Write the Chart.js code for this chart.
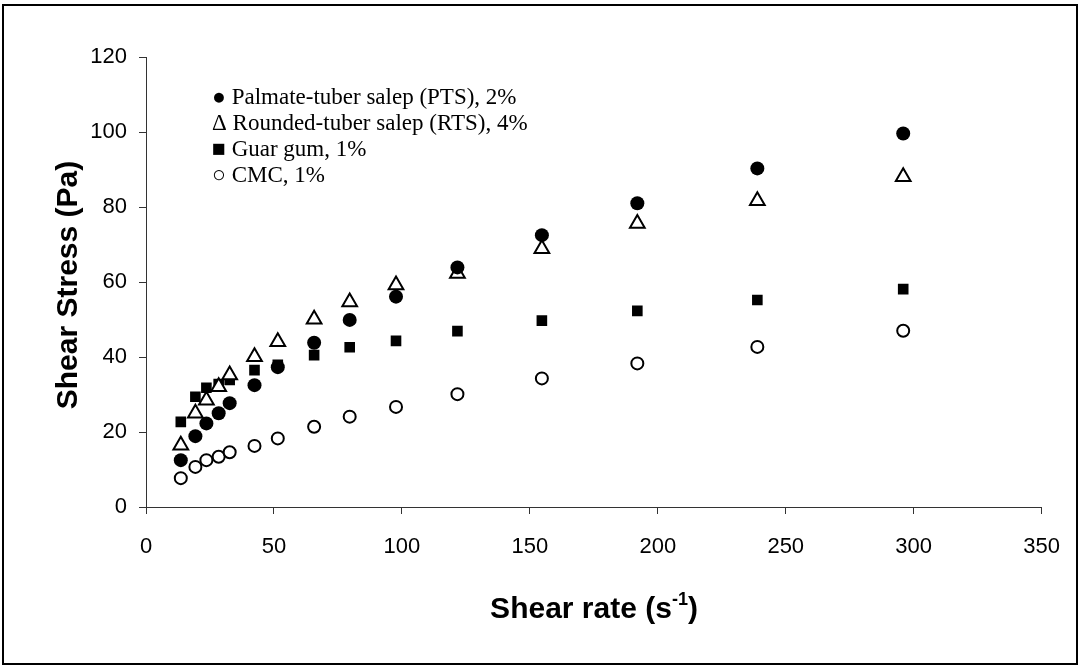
<!DOCTYPE html>
<html>
<head>
<meta charset="utf-8">
<script src="https://cdn.jsdelivr.net/npm/chart.js@4"></script>
<style>
  html, body { margin: 0; padding: 0; background: #fff; }
  #wrap { width: 1080px; height: 668px; }
</style>
</head>
<body>
<div id="wrap"><canvas id="chart" width="1080" height="668"></canvas></div>
<script>
// values
const shearRate = [13.6, 19.3, 23.6, 28.4, 32.7, 42.4, 51.5, 65.7, 79.6, 97.7, 121.7, 154.7, 192.0, 238.9, 295.9];
const ptsStress = [12.5, 18.9, 22.3, 25.0, 27.7, 32.5, 37.3, 43.8, 49.9, 56.1, 63.9, 72.5, 81.0, 90.3, 99.6];
const rtsStress = [16.5, 25.0, 28.5, 32.1, 35.2, 40.1, 44.1, 50.1, 54.7, 59.2, 62.3, 68.9, 75.6, 81.7, 88.1];
const guarStress = [22.7, 29.4, 31.8, 32.8, 33.9, 36.5, 37.9, 40.5, 42.6, 44.3, 46.9, 49.7, 52.3, 55.2, 58.1];
const cmcStress = [7.7, 10.7, 12.5, 13.4, 14.6, 16.3, 18.3, 21.4, 24.1, 26.7, 30.1, 34.3, 38.3, 42.7, 47.0];

const legendLines = [
  '\u25CF Palmate-tuber salep (PTS), 2%',
  '\u0394 Rounded-tuber salep (RTS), 4%',
  '\u25A0 Guar gum, 1%',
  '\u25CB CMC, 1%',
];
const xTickValues = [0, 50, 100, 150, 200, 250, 300, 350];
const yTickValues = [0, 20, 40, 60, 80, 100, 120];
const xTitle = 'Shear rate (s';
const xTitleSup = '-1';
const yTitle = 'Shear Stress (Pa)';

function toPoints(xs, ys) {
  return xs.map((x, i) => ({ x: x, y: ys[i] }));
}

const sansFont = '"Liberation Sans", Arial, sans-serif';
const serifFont = '"Liberation Serif", "Times New Roman", serif';

// frame, legend and axis titles
const decorPlugin = {
  id: 'decor',
  beforeDraw(chart) {
    const ctx = chart.ctx;
    ctx.save();
    ctx.fillStyle = '#fff';
    ctx.fillRect(0, 0, chart.width, chart.height);
    ctx.restore();
  },
  afterDraw(chart) {
    const ctx = chart.ctx;
    ctx.save();
    ctx.strokeStyle = '#000';
    ctx.lineWidth = 2;
    ctx.strokeRect(3, 5, 1074, 659);

    // legend
    ctx.fillStyle = '#000';
    ctx.font = '23px ' + serifFont;
    ctx.textAlign = 'left';
    ctx.textBaseline = 'alphabetic';
    legendLines.forEach((t, i) => {
      ctx.fillText(t, 212, 104 + i * 26);
    });

    // x title with superscript
    const big = 'bold 30px ' + sansFont;
    const small = 'bold 18px ' + sansFont;
    ctx.font = big;
    const w1 = ctx.measureText(xTitle).width;
    const w3 = ctx.measureText(')').width;
    ctx.font = small;
    const w2 = ctx.measureText(xTitleSup).width;
    let x = 594 - (w1 + w2 + w3) / 2;
    const base = 618;
    ctx.font = big;
    ctx.fillText(xTitle, x, base);
    x += w1;
    ctx.font = small;
    ctx.fillText(xTitleSup, x, base - 13);
    x += w2;
    ctx.font = big;
    ctx.fillText(')', x, base);

    // y title
    ctx.translate(77, 285);
    ctx.rotate(-Math.PI / 2);
    ctx.textAlign = 'center';
    ctx.fillText(yTitle, 0, 0);
    ctx.restore();
  },
};

const ctx = document.getElementById('chart').getContext('2d');
// eslint-disable-next-line no-undef
new Chart(ctx, {
  type: 'scatter',
  data: {
    datasets: [
      {
        label: 'Palmate-tuber salep (PTS), 2%',
        data: toPoints(shearRate, ptsStress),
        pointStyle: 'circle',
        pointRadius: 7,
        backgroundColor: '#000',
        borderColor: '#000',
        borderWidth: 0,
        order: 1,
      },
      {
        label: 'Rounded-tuber salep (RTS), 4%',
        data: toPoints(shearRate, rtsStress),
        pointStyle: 'triangle',
        pointRadius: 8.5,
        backgroundColor: '#fff',
        borderColor: '#000',
        borderWidth: 2,
        order: 2,
      },
      {
        label: 'Guar gum, 1%',
        data: toPoints(shearRate, guarStress),
        pointStyle: 'rect',
        pointRadius: 7.5,
        backgroundColor: '#000',
        borderColor: '#000',
        borderWidth: 0,
        order: 4,
      },
      {
        label: 'CMC, 1%',
        data: toPoints(shearRate, cmcStress),
        pointStyle: 'circle',
        pointRadius: 6,
        backgroundColor: '#fff',
        borderColor: '#000',
        borderWidth: 2,
        order: 3,
      },
    ],
  },
  options: {
    responsive: false,
    animation: false,
    layout: { padding: { top: 57, right: 34, left: 0, bottom: 0 } },
    plugins: {
      legend: { display: false },
      tooltip: { enabled: false },
    },
    scales: {
      x: {
        type: 'linear',
        min: 0,
        max: 350,
        afterFit: (s) => { s.height = 161; },
        afterBuildTicks: (s) => { s.ticks = xTickValues.map((v) => ({ value: v })); },
        grid: { drawOnChartArea: false, drawTicks: true, tickLength: 7, color: '#333' },
        border: { display: true, color: '#333', width: 1 },
        ticks: { color: '#000', padding: 20, maxRotation: 0, font: { family: sansFont, size: 22 } },
      },
      y: {
        type: 'linear',
        min: 0,
        max: 120,
        afterFit: (s) => { s.width = 146; },
        afterBuildTicks: (s) => { s.ticks = yTickValues.map((v) => ({ value: v })); },
        grid: { drawOnChartArea: false, drawTicks: true, tickLength: 7, color: '#333' },
        border: { display: true, color: '#333', width: 1 },
        ticks: { color: '#000', padding: 12, font: { family: sansFont, size: 22 } },
      },
    },
  },
  plugins: [decorPlugin],
});
</script>
</body>
</html>
